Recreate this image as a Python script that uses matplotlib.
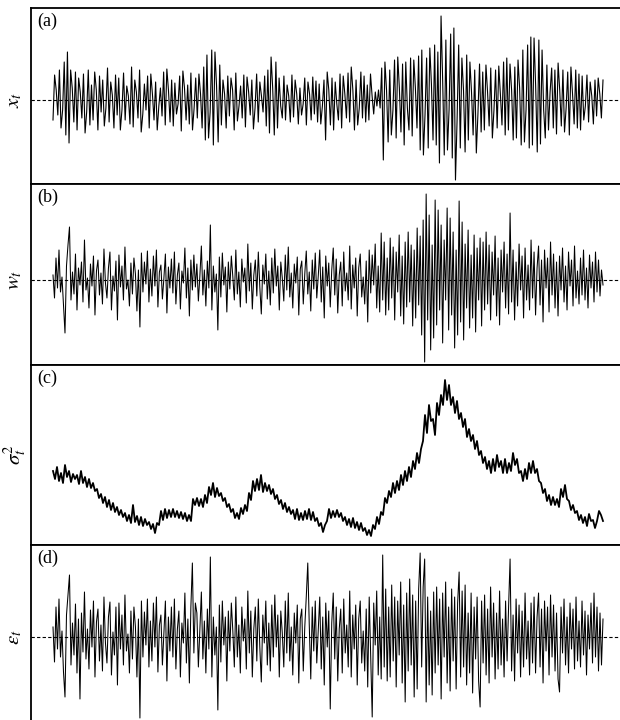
import numpy as np
import matplotlib
matplotlib.use("Agg")
import matplotlib.pyplot as plt

plt.rcParams['mathtext.fontset'] = 'stix'
plt.rcParams['font.family'] = ['Liberation Serif', 'DejaVu Serif']

# ---------------- data (arbitrary units) ----------------
x_t = [
    -20, 25, 10, -15, 30, -28, -10, 38, -35, 48, -43, 30, 12, -22, 28,
    -30, 22, 8, -18, 26, -33, -12, 30, -25, 15, -20, 28, 10, -30, 24,
    -12, 20, -26, -8, 32, -22, 18, 5, -28, 25, -15, 22, -30, -10, 27,
    -20, 14, 4, -24, 33, -27, 20, 8, -18, 30, -32, -14, 16, -10, 24,
    -28, 26, 6, -20, 18, -30, -6, 12, -16, 28, -25, 31, 10, -22, 20,
    -26, 17, -14, -4, 24, -31, 29, 12, -20, 15, -24, 27, -30, -8, 22,
    -18, 26, 6, -28, 33, -40, 45, -38, -12, 50, -45, 48, 14, -42, 35,
    -25, 20, 6, -28, 24, -16, 22, 10, -30, 27, -21, -6, 14, -18, 25,
    -27, 23, 8, -15, 20, -29, -8, 26, -22, 18, 4, -12, 24, -26, 30,
    -33, 43, 12, -35, 38, -28, 22, -6, -18, 24, -20, 15, 4, -22, 25,
    -17, 20, 6, -24, 12, -15, -4, 22, -25, 18, 6, -20, 23, -14, 19,
    -22, 16, -24, -6, 20, -40, 28, 10, -25, 22, -30, 18, -4, -20, 26,
    -28, 24, 6, -18, 27, -22, 33, 10, -30, 20, -25, -8, 28, -18, 24,
    -22, 15, -20, 26, 4, -14, 8, -6, 10, -8, 32, -60, 38, 10, -42,
    30, -35, -10, 40, -38, 43, 12, -32, 36, -45, 38, -8, -30, 42, -36,
    40, 12, -28, 44, -50, 50, -55, -15, 42, -48, 52, 16, -40, 55, -45,
    48, -63, 84, 20, -55, 60, -50, -10, 66, -58, 72, -80, -20, 55, -48,
    42, 10, -52, 45, -40, 38, 8, -35, 30, -53, -14, 36, -32, 28, -30,
    35, 8, -26, 32, -38, -10, 30, -28, 34, 6, -25, 38, -35, 42, -30,
    36, 10, -40, 33, -38, 40, 12, -45, 50, -42, -10, 55, -48, 63, -45,
    62, 14, -52, 60, -44, 50, -10, -38, 35, -30, 8, 32, -28, 30, -34,
    37, 10, -26, 30, -32, -8, 28, -35, 33, 6, -24, 30, -28, 26, -30,
    24, -20, -6, 25, -22, 18, 4, -24, 20, -16, 22, 6, -18, 20,
]

w_t = [
    5, -18, 22, -8, 30, -12, 3, -25, -53, 14, 35, 53, -20, 8, -14, 26,
    -30, 12, -5, 18, -22, 40, -10, 2, -28, 16, -6, 24, -35, 9, 20, -15,
    7, -24, 31, -3, -18, 12, 28, -30, 4, -11, 19, -40, 25, -7, 14, -20,
    33, -9, 0, -26, 17, -14, 22, 6, -31, 10, -47, 27, -12, 18, -4, 29,
    -22, 11, -16, 24, -6, 30, -27, 8, 15, -19, 2, 26, -33, 13, -8, 21,
    -13, 28, -24, 5, 17, -29, 9, -3, 32, -18, 12, -36, 20, -10, 25, -7,
    16, -21, 4, 34, -15, 10, -26, 19, -8, 55, -30, 14, -12, 6, -50, 23,
    -17, 27, -5, 13, -32, 18, -9, 24, 3, -20, 30, -14, 8, -27, 21, -2,
    12, -23, 36, -11, 17, -29, 5, 20, -16, 28, -7, -34, 15, -4, 26, -19,
    9, -25, 22, -13, 31, -6, 14, -30, 18, 2, -21, 25, -10, 33, -17, 7,
    -28, 16, -3, 23, -35, 11, 19, -24, 6, 29, -14, 8, -31, 20, -9, 27,
    -18, 4, 30, -22, 13, -38, 24, -6, 17, -27, 10, 32, -15, 21, -33, 5,
    18, -26, 28, -11, 7, -20, 34, -29, 15, -8, 22, -36, 12, 26, -17, 3,
    -24, 19, -42, 30, -13, 25, -5, 36, -28, 14, -32, 47, -20, 38, -35, 22,
    -30, 42, -18, 33, -40, 28, -12, 45, -36, 24, -44, 38, -27, 48, -22, 35,
    -46, 30, -38, 52, -25, 44, -55, 60, -82, 86, -40, 65, -70, 35, -58, 80,
    -45, 70, -30, 55, -63, 40, -20, 72, -50, 62, -35, 48, -68, 30, -55, 79,
    -42, 58, -60, 36, -28, 50, -48, 25, -38, 45, -52, 32, -20, 42, -46, 38,
    -30, 48, -24, 35, -40, 28, -15, 44, -36, 22, -45, 30, -12, 38, -28, 26,
    -34, 67, -22, 30, -40, 18, -26, 36, -10, 24, -38, 32, -20, 15, -30, 40,
    -18, 28, -35, 12, 34, -25, 20, -42, 30, -8, 22, -32, 38, -15, 26, -28,
    18, -36, 24, -10, 32, -22, 14, -30, 28, -6, 20, -26, 34, -18, 9, -24,
    22, -15, 30, -20, 12, -28, 25, -8, 18, -22, 28, -12, 20, -16, 10, -5,
]

sigma2_t = [
    74, 66, 78, 64, 72, 62, 80, 68, 74, 63, 71, 66,
    70, 61, 74, 62, 68, 58, 66, 57, 62, 54, 56, 47,
    51, 42, 48, 38, 45, 35, 42, 33, 38, 30, 35, 28,
    32, 24, 30, 22, 40, 23, 29, 20, 28, 19, 26, 20,
    23, 16, 21, 12, 22, 20, 34, 25, 36, 27, 35, 28,
    36, 28, 34, 27, 33, 26, 32, 24, 30, 24, 46, 40,
    47, 39, 46, 38, 50, 42, 58, 50, 62, 48, 57, 49,
    52, 44, 47, 38, 41, 33, 36, 27, 32, 26, 37, 31,
    40, 34, 52, 45, 64, 54, 66, 55, 70, 53, 62, 54,
    60, 51, 56, 46, 50, 41, 45, 36, 42, 33, 38, 31,
    35, 26, 36, 25, 32, 25, 34, 26, 36, 25, 33, 24,
    27, 19, 22, 13, 20, 24, 36, 27, 34, 28, 35, 28,
    32, 24, 28, 20, 26, 18, 27, 17, 23, 15, 22, 14,
    17, 10, 15, 9, 20, 16, 28, 21, 33, 30, 47, 42,
    54, 48, 62, 52, 64, 55, 70, 60, 74, 64, 78, 68,
    84, 76, 92, 82, 96, 104, 130, 112, 140, 124, 126, 110,
    142, 130, 150, 140, 165, 145, 160, 140, 148, 132, 144, 126,
    132, 118, 126, 108, 116, 104, 110, 96, 104, 90, 94, 82,
    88, 76, 84, 72, 86, 74, 90, 78, 84, 72, 86, 72,
    82, 74, 92, 80, 86, 72, 74, 64, 76, 66, 82, 72,
    84, 72, 76, 64, 62, 52, 56, 44, 50, 40, 48, 40,
    46, 38, 56, 48, 60, 46, 44, 35, 40, 32, 34, 25,
    30, 22, 28, 19, 31, 24, 25, 17, 24, 34, 30, 24,
]

eps_t = [
    10, -25, 30, -12, 38, -20, 6, -35, -60, 22, 42, 62, -28, 14, -18, 33,
    -36, 18, -62, 24, -15, 45, -22, 8, -32, 27, -10, 36, -40, 15, 28, -24,
    12, -34, 40, -6, -26, 20, 35, -38, 5, -18, 30, -48, 34, -12, 22, -28,
    42, -14, 3, -36, 26, -22, 30, 10, -40, 18, -81, 36, -20, 25, -8, 38,
    -30, 16, -24, 34, -10, 40, -35, 12, 22, -28, 5, 36, -44, 20, -14, 30,
    -20, 38, -32, 8, 26, -40, 14, -6, 44, -26, 18, -46, 30, 74, -16, 34,
    24, -30, 8, 45, -22, 16, -36, 28, -12, 80, -40, 20, -18, 10, -73, 32,
    -25, 36, -8, 20, -44, 26, -14, 34, 6, -30, 40, -20, 12, -36, 30, -4,
    18, -32, 46, -16, 26, -40, 8, 30, -24, 38, -10, -45, 22, -6, 36, -28,
    14, -34, 32, -20, 42, -10, 22, -40, 26, 4, -30, 36, -16, 44, -24, 10,
    -38, 24, -6, 32, -46, 18, 28, -34, 10, 40, 74, 12, -42, 30, -14, 36,
    -26, 8, 40, -32, 20, -48, 34, -10, 26, -72, 14, 44, -22, 30, -44, 8,
    28, -36, 38, -16, 12, -30, 46, -40, 22, -12, 32, -48, 18, 36, -26, 6,
    -34, 28, -50, 40, -20, -80, 34, -8, 46, -38, 20, -42, 82, -30, 48, -44,
    30, -40, 52, -24, 40, -50, 36, -18, 55, -46, 32, -65, 44, -34, 58, -28,
    42, -60, 36, -52, 48, 84, -30, 50, 78, -65, 40, -48, 26, -58, 45, -36,
    50, -28, 38, -62, 44, -20, 55, -46, 30, -54, 48, -24, 40, -52, 34, 65,
    -40, 46, -30, 52, -48, 24, -36, 44, -56, 30, -22, 40, -44, -70, 36, -26,
    42, -38, 28, -46, 50, -20, 34, -42, 24, -32, 46, -28, 18, -40, 36, -24,
    30, 78, -34, 22, -44, 38, -16, 32, -40, 26, -30, 44, -22, 16, -38, 34,
    -26, 40, -36, 20, 44, -30, 28, -46, 36, -14, 30, -38, 42, -20, 32, -34,
    24, -42, -55, 30, -16, 38, -28, 20, -36, 34, -12, 28, -32, 40, -24, 16,
    -30, 36, -18, 26, -38, 22, -12, 34, -26, 44, -20, 30, -34, 24, -28, 18,
]

panel_labels = ['(a)', '(b)', '(c)', '(d)']
y_labels = [r'$x_t$', r'$w_t$', r'$\sigma_t^2$', r'$\varepsilon_t$']
series = [x_t, w_t, sigma2_t, eps_t]
ylims = [(-84, 92), (-85, 96), (0, 180), (-85, 92)]
show_zero = [True, True, False, True]
line_widths = [0.8, 0.75, 1.3, 0.75]

# ---------------- layout ----------------
W, H = 620, 720
fig = plt.figure(figsize=(W / 100, H / 100), dpi=100)
fig.patch.set_facecolor('white')

extents = [(8, 184), (184, 365), (365, 545), (545, 722)]
left_px, right_px = 31, 624
data_left_px, data_right_px = 53, 603

for k, (top, bot) in enumerate(extents):
    ax = fig.add_axes([left_px / W, (H - bot) / H,
                       (right_px - left_px) / W, (bot - top) / H])
    vals = np.asarray(series[k], dtype=float)
    n = len(vals)
    idx = np.arange(n)
    s = (data_right_px - data_left_px) / (n - 1)
    ax.set_xlim(-(data_left_px - left_px) / s,
                (n - 1) + (right_px - data_right_px) / s)
    ax.set_ylim(*ylims[k])
    ax.plot(idx, vals, color='black', lw=line_widths[k], zorder=2)
    if show_zero[k]:
        ax.axhline(0, color='black', lw=0.8, ls=(0, (3, 2)), zorder=3)
    ax.set_xticks([])
    ax.set_yticks([])
    for sp in ax.spines.values():
        sp.set_linewidth(1.3)
        sp.set_color('black')
    ax.text(0.01, 0.975, panel_labels[k], transform=ax.transAxes,
            ha='left', va='top', fontsize=13)
    # y label, centred at about 15 px from the left edge
    zero_frac = (0 - ylims[k][0]) / (ylims[k][1] - ylims[k][0])
    ylab_y = 0.5 if k == 2 else zero_frac
    ax.text(-16 / (right_px - left_px), ylab_y, y_labels[k],
            transform=ax.transAxes, rotation=90, ha='center', va='center',
            fontsize=15)

fig.savefig('out.png', dpi=100, facecolor='white')
